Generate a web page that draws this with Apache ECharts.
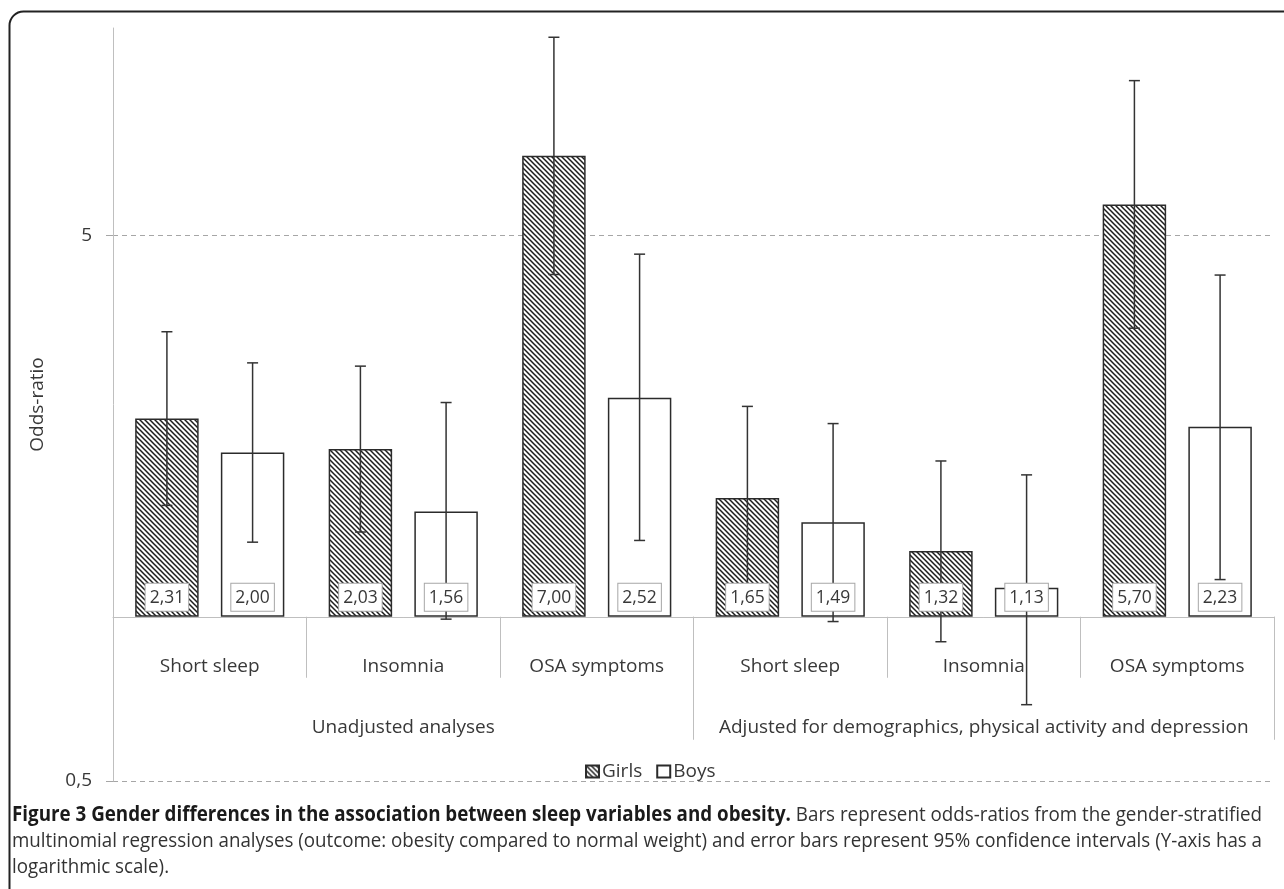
<!DOCTYPE html>
<html><head><meta charset="utf-8">
<script src="https://cdn.jsdelivr.net/npm/echarts@6/dist/echarts.min.js"></script>
<style>html,body{margin:0;padding:0;background:#fff}#chart{width:1284px;height:889px}</style>
</head><body><div id="chart"></div>
<script>
// ---- data ----
const categories = ['Short sleep', 'Insomnia', 'OSA symptoms', 'Short sleep', 'Insomnia', 'OSA symptoms'];
const groups = ['Unadjusted analyses', 'Adjusted for demographics, physical activity and depression'];
const girls     = [2.31, 2.03, 7.00, 1.65, 1.32, 5.70];
const girlsLow  = [1.60, 1.43, 4.24, 1.12, 0.90, 3.38];
const girlsHigh = [3.33, 2.88, 11.54, 2.43, 1.93, 9.61];
const boys      = [2.00, 1.56, 2.52, 1.49, 1.13, 2.23];
const boysLow   = [1.37, 0.99, 1.38, 0.98, 0.69, 1.17];
const boysHigh  = [2.92, 2.47, 4.62, 2.26, 1.82, 4.23];
const yTicks = [0.5, 5];
const yMin = 0.5, yMax = 12;
const captionBold = 'Figure 3 Gender differences in the association between sleep variables and obesity.';
const captionLines = [
  ' Bars represent odds-ratios from the gender-stratified',
  'multinomial regression analyses (outcome: obesity compared to normal weight) and error bars represent 95% confidence intervals (Y-axis has a',
  'logarithmic scale).'
];

// ---- layout / style ----
const FONT = '"Open Sans", "Noto Sans", sans-serif';
const TXT = '#383838';
const GRID = {left: 113, right: 10, top: 28, bottom: 108};
const plotH = 889 - GRID.top - GRID.bottom;
const baseOffset = -plotH * Math.log10(1 / yMin) / Math.log10(yMax / yMin);
const BAR_W = 0.328, BAR_GAP = 0.35;
const fmt = v => v.toFixed(2).replace('.', ',');

function hatch() {
  const s = 5, c = document.createElement('canvas');
  c.width = s; c.height = s;
  const g = c.getContext('2d');
  g.fillStyle = '#fff'; g.fillRect(0, 0, s, s);
  g.strokeStyle = '#1e1e1e'; g.lineWidth = 1.5;
  g.beginPath();
  g.moveTo(0, 0); g.lineTo(s, s);
  g.moveTo(-1, s - 1); g.lineTo(1, s + 1);
  g.moveTo(s - 1, -1); g.lineTo(s + 1, 1);
  g.stroke();
  return c;
}
const hatchFill = {image: hatch(), repeat: 'repeat'};

function errRender(sign) {
  return function (params, api) {
    const i = api.value(0);
    let band = api.size([1, 0])[0];
    if (!isFinite(band) || !band) band = (1284 - GRID.left - GRID.right) / categories.length;
    const off = sign * band * (BAR_W / 2 + BAR_W * BAR_GAP / 2);
    const lo = api.coord([i, api.value(1)]);
    const hi = api.coord([i, api.value(2)]);
    const base = api.coord([i, 1]);
    const x = lo[0] + off, cap = 5.5;
    const ls = {stroke: '#333', lineWidth: 1.5};
    return {type: 'group', children: [
      {type: 'line', shape: {x1: x, y1: lo[1], x2: x, y2: hi[1]}, style: ls},
      {type: 'line', shape: {x1: x - cap, y1: lo[1], x2: x + cap, y2: lo[1]}, style: ls},
      {type: 'line', shape: {x1: x - cap, y1: hi[1], x2: x + cap, y2: hi[1]}, style: ls},
      {type: 'text', x: x, y: base[1] - 6, style: {
        text: fmt(api.value(3)), fontSize: 17.5, fontFamily: FONT, fill: TXT,
        align: 'center', verticalAlign: 'bottom', backgroundColor: '#fff',
        borderColor: '#a6a6a6', borderWidth: 1, padding: [5, 4, 4, 4], lineHeight: 18
      }}
    ]};
  };
}

// caption measurement
const CAP_FS = 20.5;
const mc = document.createElement('canvas').getContext('2d');
function measure(t, bold) { mc.font = (bold ? 'bold ' : '') + CAP_FS + 'px "Open Sans"'; return mc.measureText(t).width; }
const CAP_W = 1250;
const w1 = measure(captionBold, true) + measure(captionLines[0], false);
const w2 = measure(captionLines[1], false);
const sc1 = CAP_W / w1, sc2 = CAP_W / w2;
const richCap = {
  b: {fontFamily: FONT, fontSize: CAP_FS, fontWeight: 'bold', fill: '#1a1a1a'},
  n: {fontFamily: FONT, fontSize: CAP_FS, fill: '#333'}
};

const chart = echarts.init(document.getElementById('chart'), null, {renderer: 'canvas'});
chart.setOption({
  animation: false,
  backgroundColor: '#fff',
  textStyle: {fontFamily: FONT},
  grid: {left: GRID.left, right: GRID.right, top: GRID.top, bottom: GRID.bottom, containLabel: false},
  legend: {
    left: 585, top: 762, padding: 0, icon: 'rect', itemWidth: 13, itemHeight: 12, itemGap: 14,
    data: ['Girls', 'Boys'],
    textStyle: {fontSize: 19, color: TXT, fontFamily: FONT, padding: [0, 0, 0, -2]}
  },
  xAxis: [
    {
      type: 'category', data: categories, position: 'bottom', offset: baseOffset,
      axisLine: {show: true, onZero: false, lineStyle: {color: '#bfbfbf', width: 1}},
      axisTick: {show: true, length: 61, interval: 0, lineStyle: {color: '#bfbfbf'}},
      axisLabel: {interval: 0, margin: 40, fontSize: 19, color: TXT, fontFamily: FONT},
      splitLine: {show: false}
    },
    {
      type: 'category', data: groups, position: 'bottom', offset: baseOffset, min: 0, max: 1,
      axisLine: {show: false, onZero: false},
      axisTick: {show: true, length: 123, interval: 0, lineStyle: {color: '#bfbfbf'}},
      axisLabel: {interval: 0, margin: 101, fontSize: 19, color: TXT, fontFamily: FONT},
      splitLine: {show: false}
    }
  ],
  yAxis: {
    type: 'log', logBase: 10, min: yMin, max: yMax,
    axisLine: {show: true, lineStyle: {color: '#bfbfbf', width: 1}},
    axisTick: {show: true, length: 7, customValues: yTicks, lineStyle: {color: '#a6a6a6'}},
    axisLabel: {customValues: yTicks, formatter: v => String(v).replace('.', ','), margin: 21, fontSize: 19, color: TXT, fontFamily: FONT},
    splitLine: {show: true, lineStyle: {color: '#a6a6a6', width: 1, type: [5, 4]}},
    minorTick: {show: false}, minorSplitLine: {show: false},
    name: 'Odds-ratio', nameLocation: 'middle', nameGap: 66, nameRotate: 90,
    nameTextStyle: {fontSize: 19, color: TXT, fontFamily: FONT}
  },
  series: [
    {
      name: 'Girls', type: 'bar', xAxisIndex: 0, data: girls,
      barWidth: (BAR_W * 100) + '%', barGap: (BAR_GAP * 100) + '%',
      itemStyle: {color: hatchFill, borderColor: '#2b2b2b', borderWidth: 1.5},
      emphasis: {disabled: true}
    },
    {
      name: 'Boys', type: 'bar', xAxisIndex: 0, data: boys,
      barWidth: (BAR_W * 100) + '%', barGap: (BAR_GAP * 100) + '%',
      itemStyle: {color: '#fff', borderColor: '#2b2b2b', borderWidth: 1.5},
      emphasis: {disabled: true}
    },
    {
      name: 'Girls CI', type: 'custom', xAxisIndex: 0, z: 5, clip: false,
      renderItem: errRender(-1),
      encode: {x: 0, y: [1, 2]},
      data: categories.map((c, i) => [i, girlsLow[i], girlsHigh[i], girls[i]])
    },
    {
      name: 'Boys CI', type: 'custom', xAxisIndex: 0, z: 5, clip: false,
      renderItem: errRender(1),
      encode: {x: 0, y: [1, 2]},
      data: categories.map((c, i) => [i, boysLow[i], boysHigh[i], boys[i]])
    }
  ],
  graphic: [
    {type: 'rect', silent: true, z: 0, shape: {x: 9.5, y: 11.5, width: 1400, height: 1000, r: 14},
      style: {fill: 'none', stroke: '#222', lineWidth: 2}},
    {type: 'text', x: 12, y: 815, scaleX: sc1, silent: true,
      style: {text: '{b|' + captionBold + '}{n|' + captionLines[0] + '}', rich: richCap, verticalAlign: 'middle'}},
    {type: 'text', x: 12, y: 841, scaleX: sc2, silent: true,
      style: {text: '{n|' + captionLines[1] + '}', rich: richCap, verticalAlign: 'middle'}},
    {type: 'text', x: 12, y: 867, scaleX: sc2, silent: true,
      style: {text: '{n|' + captionLines[2] + '}', rich: richCap, verticalAlign: 'middle'}}
  ]
});
</script>
</body></html>
